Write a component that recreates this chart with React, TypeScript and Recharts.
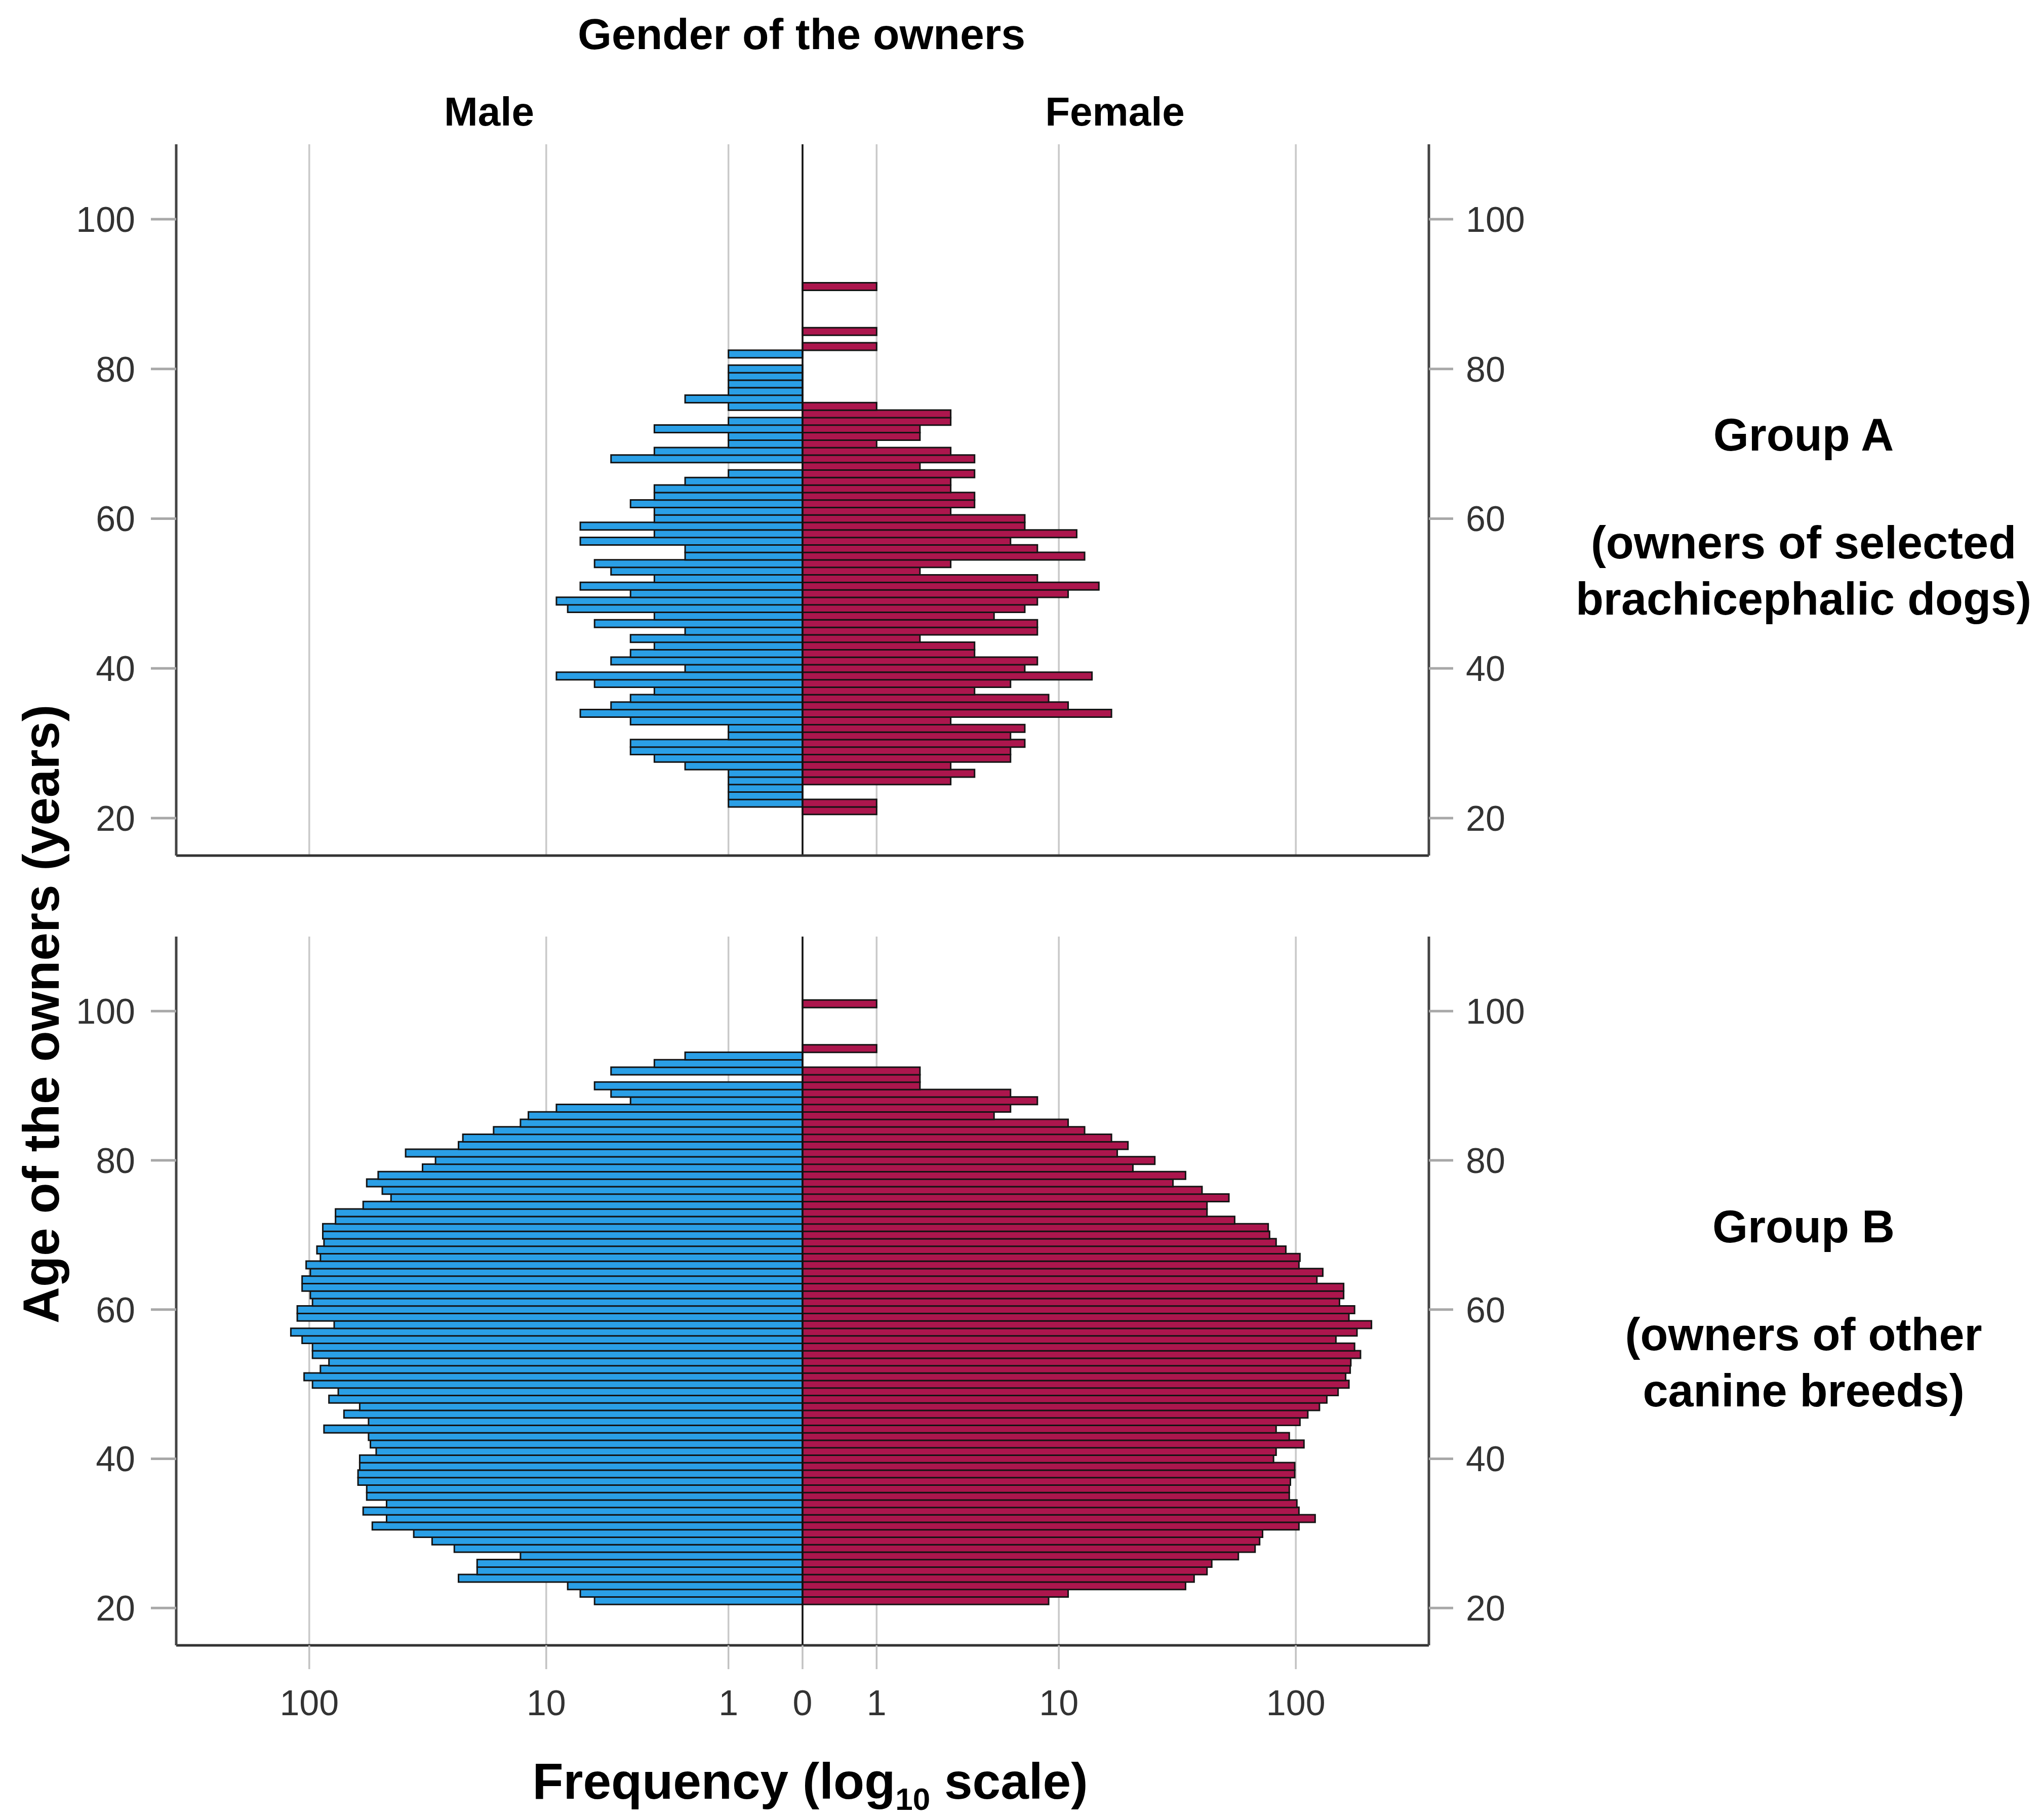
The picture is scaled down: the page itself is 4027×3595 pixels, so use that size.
import React from 'react';
import { BarChart, Bar, XAxis, YAxis, CartesianGrid, ReferenceLine } from 'recharts';

// Age of the owners (years), one bar per year
const ages = [
  21, 22, 23, 24, 25, 26, 27, 28, 29, 30,
  31, 32, 33, 34, 35, 36, 37, 38, 39, 40,
  41, 42, 43, 44, 45, 46, 47, 48, 49, 50,
  51, 52, 53, 54, 55, 56, 57, 58, 59, 60,
  61, 62, 63, 64, 65, 66, 67, 68, 69, 70,
  71, 72, 73, 74, 75, 76, 77, 78, 79, 80,
  81, 82, 83, 84, 85, 86, 87, 88, 89, 90,
  91, 92, 93, 94, 95, 96, 97, 98, 99, 100,
  101,
];

// Group A (owners of selected brachicephalic dogs)
const maleA = [
  0, 1, 1, 1, 1, 1, 2, 3, 4, 4,
  1, 1, 4, 7, 5, 4, 3, 6, 9, 2,
  5, 4, 3, 4, 2, 6, 3, 8, 9, 4,
  7, 3, 5, 6, 2, 2, 7, 3, 7, 3,
  3, 4, 3, 3, 2, 1, 0, 5, 3, 1,
  1, 3, 1, 0, 1, 2, 1, 1, 1, 1,
  0, 1, 0, 0, 0, 0, 0, 0, 0, 0,
  0, 0, 0, 0, 0, 0, 0, 0, 0, 0,
  0,
];
const femaleA = [
  1, 1, 0, 0, 3, 4, 3, 6, 6, 7,
  6, 7, 3, 17, 11, 9, 4, 6, 14, 7,
  8, 4, 4, 2, 8, 8, 5, 7, 8, 11,
  15, 8, 2, 3, 13, 8, 6, 12, 7, 7,
  3, 4, 4, 3, 3, 4, 2, 4, 3, 1,
  2, 2, 3, 3, 1, 0, 0, 0, 0, 0,
  0, 0, 1, 0, 1, 0, 0, 0, 0, 0,
  1, 0, 0, 0, 0, 0, 0, 0, 0, 0,
  0,
];

// Group B (owners of other canine breeds)
const maleB = [
  6, 7, 8, 24, 20, 20, 13, 25, 31, 37,
  55, 48, 60, 48, 58, 58, 63, 63, 62, 62,
  53, 56, 57, 87, 57, 72, 62, 83, 76, 97,
  105, 90, 83, 97, 97, 107, 119, 79, 112, 112,
  97, 99, 107, 107, 99, 103, 90, 93, 87, 88,
  88, 78, 78, 60, 46, 50, 58, 52, 34, 30,
  40, 24, 23, 17, 13, 12, 9, 4, 5, 6,
  0, 5, 3, 2, 0, 0, 0, 0, 0, 0,
  0,
];
const femaleB = [
  9, 11, 35, 38, 43, 45, 58, 68, 71, 73,
  103, 120, 103, 101, 94, 94, 95, 99, 99, 81,
  83, 108, 94, 83, 104, 112, 125, 134, 149, 165,
  160, 167, 168, 184, 174, 146, 178, 204, 165, 174,
  151, 157, 157, 122, 129, 103, 104, 91, 83, 78,
  77, 56, 43, 43, 53, 41, 31, 35, 21, 26,
  18, 20, 17, 13, 11, 5, 6, 8, 6, 2,
  2, 2, 0, 0, 1, 0, 0, 0, 0, 0,
  1,
];

const ageTicks = [20, 40, 60, 80, 100];
const freqTicks = [-100, -10, -1, 0, 1, 10, 100];

// log10(n + 1) frequency scale, males to the left
const toLog = (n: number) => Math.log10(n + 1);
const xTicks = freqTicks.map((f) => Math.sign(f) * toLog(Math.abs(f)));
const fmtX = (t: number) => String(Math.round(Math.pow(10, Math.abs(t)) - 1));

const buildRows = (male: number[], female: number[]) =>
  ages.map((age, i) => ({ age, male: -toLog(male[i]), female: toLog(female[i]) }));

const rowsA = buildRows(maleA, femaleA);
const rowsB = buildRows(maleB, femaleB);

const FONT = '"Liberation Sans", Arial, Helvetica, sans-serif';
const BLUE = '#2A9FE6';
const RED = '#AC164D';
const EDGE = '#141414';
const X_MAX = 2.545;
const W = 4027;

const HiddenTick = () => <g />;

type PanelProps = {
  rows: { age: number; male: number; female: number }[];
  height: number;
  marginTop: number;
  marginBottom: number;
  xAxisHeight: number;
  showXLabels: boolean;
};

function Panel({ rows, height, marginTop, marginBottom, xAxisHeight, showXLabels }: PanelProps) {
  const tickStyle = { fontSize: 70, fill: '#333', fontFamily: FONT };
  return (
    <BarChart
      width={W}
      height={height}
      data={rows}
      layout="vertical"
      stackOffset="sign"
      barCategoryGap={0}
      barGap={0}
      margin={{ top: marginTop, right: 1055, bottom: marginBottom, left: 0 }}
    >
      <CartesianGrid yAxisId="left" horizontal={false} vertical stroke="#c9c9c9" strokeWidth={3.5} />
      <XAxis
        type="number"
        domain={[-X_MAX, X_MAX]}
        allowDataOverflow
        ticks={xTicks}
        interval={0}
        tickFormatter={fmtX}
        height={xAxisHeight}
        axisLine={{ stroke: '#333', strokeWidth: 5 }}
        tick={showXLabels ? tickStyle : HiddenTick}
        tickLine={showXLabels ? { stroke: '#c2c2c2', strokeWidth: 3.5 } : false}
        tickSize={showXLabels ? 47 : 0}
        tickMargin={showXLabels ? 41 : 0}
      />
      <YAxis
        yAxisId="left"
        type="number"
        dataKey="age"
        domain={[15, 110]}
        allowDataOverflow
        reversed
        ticks={ageTicks}
        interval={0}
        width={348}
        axisLine={{ stroke: '#444', strokeWidth: 5 }}
        tickLine={{ stroke: '#a8a8a8', strokeWidth: 5 }}
        tickSize={50}
        tickMargin={31}
        tick={tickStyle}
      />
      <YAxis
        yAxisId="right"
        orientation="right"
        type="number"
        dataKey="age"
        domain={[15, 110]}
        allowDataOverflow
        reversed
        ticks={ageTicks}
        interval={0}
        width={150}
        axisLine={{ stroke: '#444', strokeWidth: 5 }}
        tickLine={{ stroke: '#a8a8a8', strokeWidth: 5 }}
        tickSize={48}
        tickMargin={25}
        tick={tickStyle}
      />
      <Bar yAxisId="left" dataKey="male" stackId="s" fill={BLUE} stroke={EDGE} strokeWidth={3} isAnimationActive={false} />
      <Bar yAxisId="left" dataKey="female" stackId="s" fill={RED} stroke={EDGE} strokeWidth={3} isAnimationActive={false} />
      <ReferenceLine yAxisId="left" x={0} stroke="#111" strokeWidth={3.5} />
    </BarChart>
  );
}

export default function App() {
  const bold = { fontFamily: FONT, fontWeight: 700, fill: '#000' } as const;
  return (
    <div style={{ position: 'absolute', left: 0, top: 0, width: W, height: 3595, background: '#fff', overflow: 'hidden' }}>
      <div style={{ position: 'absolute', left: 0, top: 0 }}>
        <Panel rows={rowsA} height={1760} marginTop={285} marginBottom={50} xAxisHeight={20} showXLabels={false} />
      </div>
      <div style={{ position: 'absolute', left: 0, top: 0 }}>
        <Panel rows={rowsB} height={3595} marginTop={1850} marginBottom={145} xAxisHeight={200} showXLabels />
      </div>
      <svg width={W} height={3595} style={{ position: 'absolute', left: 0, top: 0, pointerEvents: 'none' }}>
        <text x={1583} y={97} textAnchor="middle" fontSize={86} {...bold}>Gender of the owners</text>
        <text x={966} y={248} textAnchor="middle" fontSize={80} {...bold}>Male</text>
        <text x={2202} y={248} textAnchor="middle" fontSize={80} {...bold}>Female</text>

        <text x={3562} y={890} textAnchor="middle" fontSize={90} {...bold}>Group A</text>
        <text x={3562} y={1103} textAnchor="middle" fontSize={90} {...bold}>(owners of selected</text>
        <text x={3562} y={1214} textAnchor="middle" fontSize={90} {...bold}>brachicephalic dogs)</text>

        <text x={3562} y={2454} textAnchor="middle" fontSize={90} {...bold}>Group B</text>
        <text x={3562} y={2667} textAnchor="middle" fontSize={90} {...bold}>(owners of other</text>
        <text x={3562} y={2778} textAnchor="middle" fontSize={90} {...bold}>canine breeds)</text>

        <text x={1600} y={3553} textAnchor="middle" fontSize={100} {...bold}>
          <tspan>Frequency (log</tspan>
          <tspan fontSize={62} dy={22}>10</tspan>
          <tspan dy={-22}> scale)</tspan>
        </text>

        <text transform="translate(116,2003) rotate(-90)" textAnchor="middle" fontSize={100} {...bold}>
          Age of the owners (years)
        </text>
      </svg>
    </div>
  );
}
